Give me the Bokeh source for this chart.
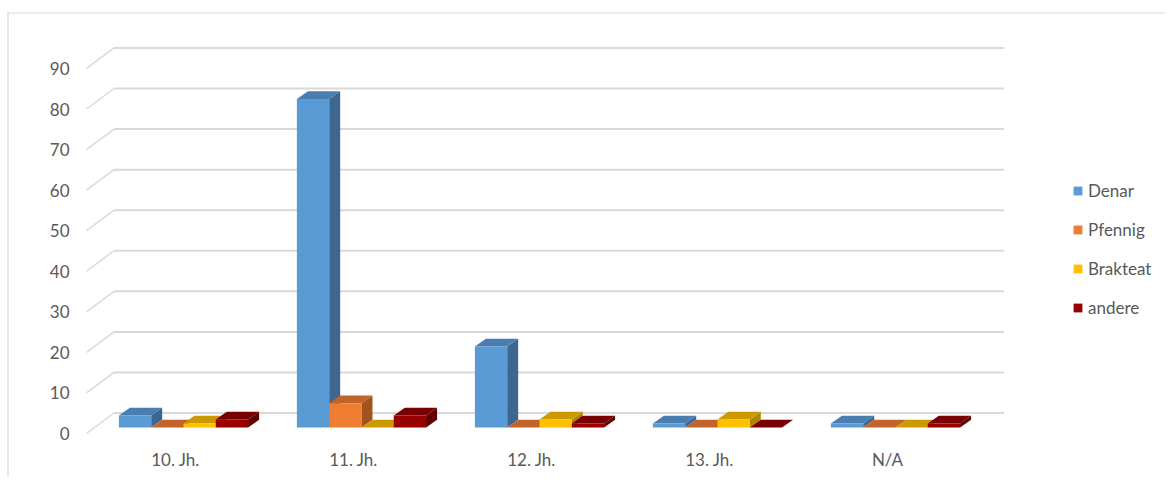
from bokeh.plotting import figure
from bokeh.models import ColumnDataSource, Legend, LegendItem
from bokeh.core.properties import value
from bokeh.embed import file_html
from bokeh.resources import INLINE

# ---- data ----
categories = ["10. Jh.", "11. Jh.", "12. Jh.", "13. Jh.", "N/A"]
series_names = ["Denar", "Pfennig", "Brakteat", "andere"]
denar = [3, 81, 20, 1, 1]
pfennig = [0, 6, 0, 0, 0]
brakteat = [1, 0, 2, 2, 0]
andere = [2, 3, 1, 0, 1]
y_ticks = [0, 10, 20, 30, 40, 50, 60, 70, 80, 90]

series_values = [denar, pfennig, brakteat, andere]
front_colors = ["#5b9bd5", "#ed7d31", "#ffc000", "#990000"]
top_colors = ["#4a7db0", "#c1632a", "#cc9a00", "#790000"]
side_colors = ["#3d6690", "#a4531d", "#b08500", "#620000"]

# ---- layout geometry (canvas pixels -> data units) ----
W, H = 1165, 476
PX0, PY0 = 86.0, 433.0          # front-plane origin
CAT_PX = 178.0                  # pixels per category
VAL_PX = 4.056                  # pixels per value unit


def X(px):
    return (px - PX0) / CAT_PX - 0.5


def Y(py):
    return (PY0 - py) / VAL_PX


DX, DY = 27.5 / CAT_PX, 20.5 / VAL_PX        # full depth of the floor
F0 = 0.29                                     # depth of bar front faces
BDX, BDY = 11.0 / CAT_PX, 7.7 / VAL_PX        # bar depth
BW = 32.3 / CAT_PX                            # bar width
GRID = "#d9d9d9"
TXT = "#595959"
FONT = "Lato"
FS = "17px"

p = figure(width=W, height=H, output_backend="svg", toolbar_location=None,
           x_range=(X(0), X(W)), y_range=(Y(H), Y(0)),
           min_border=0, min_border_left=0, min_border_right=0,
           min_border_top=0, min_border_bottom=0)
p.axis.visible = False
p.grid.visible = False
p.outline_line_color = None
p.background_fill_color = "white"
p.border_fill_color = "white"

# chart border (left & top edges visible in the window)
p.segment(x0=[X(7.5), X(7)], y0=[Y(12), Y(12.5)], x1=[X(7.5), X(1200)], y1=[Y(500), Y(12.5)],
          line_color=GRID, line_width=1.2)

# back wall gridlines and side-wall diagonals
p.segment(x0=[-0.5 + DX] * len(y_ticks), y0=[t + DY for t in y_ticks],
          x1=[4.5 + DX] * len(y_ticks), y1=[t + DY for t in y_ticks],
          line_color=GRID, line_width=2)
p.segment(x0=[-0.5] * len(y_ticks), y0=y_ticks,
          x1=[-0.5 + DX] * len(y_ticks), y1=[t + DY for t in y_ticks],
          line_color=GRID, line_width=1.5)

# value labels on the front plane
p.text(x=[X(69)] * len(y_ticks), y=y_ticks, text=[str(t) for t in y_ticks],
       text_font=value(FONT), text_font_size=FS, text_color=TXT,
       text_align="right", text_baseline="middle")

# category labels
p.text(x=list(range(len(categories))), y=[Y(459)] * len(categories), text=categories,
       text_font=value(FONT), text_font_size=FS, text_color=TXT,
       text_align="center", text_baseline="middle")

# 3-D bars
legend_items = []
n = len(series_values)
for s, vals in enumerate(series_values):
    xl = [i - n / 2 * BW + s * BW + F0 * DX for i in range(len(vals))]
    xr = [a + BW for a in xl]
    yb = [F0 * DY] * len(vals)
    yt = [F0 * DY + v for v in vals]
    side_xs = [[r, r + BDX, r + BDX, r] for r in xr]
    side_ys = [[b, b + BDY, t + BDY, t] for b, t in zip(yb, yt)]
    top_xs = [[l, r, r + BDX, l + BDX] for l, r in zip(xl, xr)]
    top_ys = [[t, t, t + BDY, t + BDY] for t in yt]
    p.patches(xs=side_xs, ys=side_ys, fill_color=side_colors[s], line_color=None)
    p.patches(xs=top_xs, ys=top_ys, fill_color=top_colors[s], line_color=None)
    src = ColumnDataSource(dict(left=xl, right=xr, bottom=yb, top=yt))
    r = p.quad(left="left", right="right", bottom="bottom", top="top", source=src,
               fill_color=front_colors[s], line_color=None)
    legend_items.append(LegendItem(label=series_names[s], renderers=[r]))

# legend: bottom-left corner given in pixels from the frame's bottom-left
legend = Legend(items=legend_items, location=(1072, 158), orientation="vertical",
                glyph_width=11, glyph_height=11, label_height=20, spacing=18,
                padding=0, margin=0, label_standoff=5,
                label_text_font=FONT, label_text_font_size=FS,
                label_text_color=TXT, border_line_color=None,
                background_fill_alpha=0)
p.add_layout(legend)

open("out.html", "w").write(file_html(p, INLINE))
